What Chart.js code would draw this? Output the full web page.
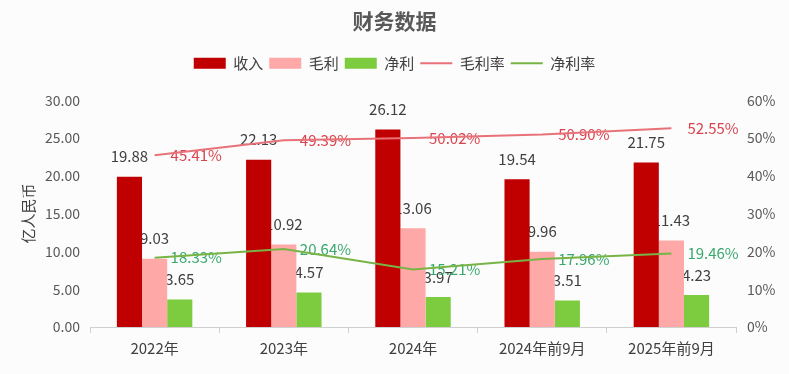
<!DOCTYPE html>
<html><head><meta charset="utf-8">
<script src="https://cdn.jsdelivr.net/npm/chart.js@4.4.1/dist/chart.umd.min.js"></script>
<style>html,body{margin:0;padding:0;background:#fcfcfc}#wrap{width:789px;height:374px}</style>
</head><body><div id="wrap"><canvas id="c" width="789" height="374"></canvas></div>
<script>
const categories = ['2022年', '2023年', '2024年', '2024年前9月', '2025年前9月'];
const revenue = [19.88, 22.13, 26.12, 19.54, 21.75];
const grossProfit = [9.03, 10.92, 13.06, 9.96, 11.43];
const netProfit = [3.65, 4.57, 3.97, 3.51, 4.23];
const grossMargin = [45.41, 49.39, 50.02, 50.90, 52.55];
const netMargin = [18.33, 20.64, 15.21, 17.96, 19.46];

const FONT = '"Noto Sans CJK SC", "Noto Sans", sans-serif';
Chart.defaults.font.family = FONT;

const labelPlugin = {
  id: 'valueLabels',
  beforeDatasetsDraw(chart) {
    const ctx = chart.ctx;
    ctx.save();
    ctx.font = '15px ' + FONT;
    ctx.textBaseline = 'middle';
    chart.data.datasets.forEach((ds, i) => {
      const meta = chart.getDatasetMeta(i);
      meta.data.forEach((el, j) => {
        const v = ds.data[j];
        if (ds.type === 'line') {
          ctx.fillStyle = ds.labelColor;
          ctx.textAlign = 'left';
          ctx.fillText(v.toFixed(2) + '%', el.x + 16, el.y);
        } else {
          ctx.fillStyle = '#404040';
          ctx.textAlign = 'center';
          ctx.fillText(v.toFixed(2), el.x, el.y - 20);
        }
      });
    });
    ctx.restore();
  }
};

const legendPad = {
  id: 'legendPad',
  beforeLayout(chart) {
    const lg = chart.legend;
    if (lg && !lg._patched) {
      const orig = lg.fit.bind(lg);
      lg.fit = function () { orig(); this.height += 19.5; };
      lg._patched = true;
    }
  }
};

new Chart(document.getElementById('c'), {
  data: {
    labels: categories,
    datasets: [
      { type: 'bar', label: '收入', data: revenue, backgroundColor: '#C00000', yAxisID: 'y', order: 1, pointStyle: 'rect', borderWidth: 0 },
      { type: 'bar', label: '毛利', data: grossProfit, backgroundColor: '#FFA8A8', yAxisID: 'y', order: 1, pointStyle: 'rect', borderWidth: 0 },
      { type: 'bar', label: '净利', data: netProfit, backgroundColor: '#7DCB3E', yAxisID: 'y', order: 1, pointStyle: 'rect', borderWidth: 0 },
      { type: 'line', label: '毛利率', data: grossMargin, borderColor: '#E8727A', backgroundColor: '#E8727A', borderWidth: 2, pointRadius: 0, pointStyle: 'line', tension: 0, yAxisID: 'y1', order: 0, labelColor: '#D9434D' },
      { type: 'line', label: '净利率', data: netMargin, borderColor: '#78B445', backgroundColor: '#78B445', borderWidth: 2, pointRadius: 0, pointStyle: 'line', tension: 0, yAxisID: 'y1', order: 0, labelColor: '#3AA86E' }
    ]
  },
  options: {
    responsive: false,
    animation: false,
    devicePixelRatio: 1,
    layout: { padding: 0 },
    datasets: { bar: { categoryPercentage: 0.584, barPercentage: 1 } },
    plugins: {
      title: { display: true, text: '财务数据', color: '#595959', font: { size: 21, weight: 'bold' }, padding: { top: 8, bottom: 16.5 } },
      legend: {
        labels: {
          usePointStyle: true, pointStyleWidth: 32, boxHeight: 11, padding: 6,
          color: '#404040', font: { size: 15 },
          sort: (a, b) => a.datasetIndex - b.datasetIndex
        }
      },
      tooltip: { enabled: false }
    },
    scales: {
      x: {
        afterFit(s) { s.height = 47; },
        grid: { display: true, drawOnChartArea: false, drawTicks: true, tickLength: 6, color: '#d0d0d0', offset: true },
        border: { display: true, color: '#d0d0d0' },
        ticks: { color: '#404040', font: { size: 15 }, padding: 6 }
      },
      y: {
        position: 'left', min: 0, max: 30,
        afterFit(s) { s.width = 90; },
        grid: { display: false, drawTicks: false },
        border: { display: false },
        ticks: { stepSize: 5, color: '#595959', font: { size: 14 }, padding: 10, callback: v => v.toFixed(2) },
        title: { display: true, text: '亿人民币', color: '#404040', font: { size: 15 }, padding: { top: 19, bottom: 0 } }
      },
      y1: {
        position: 'right', min: 0, max: 60,
        afterFit(s) { s.width = 53; },
        grid: { display: false, drawTicks: false },
        border: { display: false },
        ticks: { stepSize: 10, color: '#595959', font: { size: 14 }, padding: 11, callback: v => v + '%' }
      }
    }
  },
  plugins: [labelPlugin, legendPad]
});
</script>
</body></html>
